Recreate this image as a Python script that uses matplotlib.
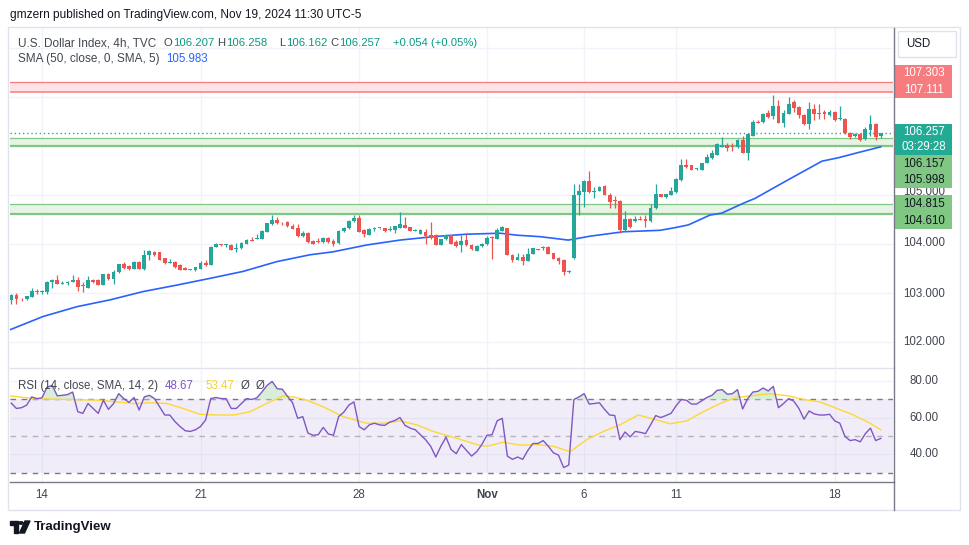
import numpy as np
import matplotlib.pyplot as plt
from matplotlib.patches import Rectangle, Circle, Polygon
from matplotlib.lines import Line2D

plt.rcParams['font.family'] = ['Liberation Sans', 'DejaVu Sans']

# ---- data (USD index, 4h candles, Oct 11 - Nov 19 2024) ----
opens = [
    102.86, 102.95, 102.90, 102.87, 102.92, 103.05, 103.03, 103.03, 103.22, 103.27,
    103.19, 103.20, 103.22, 103.27, 103.17, 103.11, 103.27, 103.27, 103.17, 103.39,
    103.29, 103.42, 103.59, 103.56, 103.49, 103.64, 103.49, 103.77, 103.84, 103.83,
    103.71, 103.62, 103.64, 103.58, 103.51, 103.47, 103.47, 103.49, 103.61, 103.58,
    103.93, 104.00, 103.98, 103.98, 103.90, 103.91, 104.00, 104.08, 104.11, 104.11,
    104.25, 104.40, 104.49, 104.45, 104.45, 104.37, 104.33, 104.17, 104.23, 104.07,
    104.06, 104.04, 104.12, 104.07, 104.02, 104.27, 104.32, 104.46, 104.54, 104.29,
    104.19, 104.30, 104.33, 104.33, 104.29, 104.29, 104.32, 104.39, 104.34, 104.27,
    104.21, 104.25, 104.19, 104.19, 103.98, 104.10, 104.18, 104.05, 103.97, 104.08,
    103.98, 103.86, 103.95, 104.00, 104.15, 104.11, 104.27, 104.32, 103.78, 103.67,
    103.74, 103.65, 103.80, 103.89, 103.91, 103.93, 103.82, 103.72, 103.67, 103.42,
    103.71, 104.99, 105.07, 105.29, 105.07, 105.09, 105.18, 105.00, 104.89, 104.88,
    104.29, 104.52, 104.46, 104.52, 104.51, 104.46, 104.73, 105.02, 104.95, 105.00,
    105.07, 105.31, 105.61, 105.61, 105.53, 105.50, 105.66, 105.75, 105.82, 105.98,
    106.03, 105.99, 105.97, 106.13, 105.86, 106.21, 106.49, 106.48, 106.68, 106.61,
    106.81, 106.46, 106.66, 106.90, 106.80, 106.63, 106.45, 106.76, 106.68, 106.69,
    106.63, 106.70, 106.55, 106.56, 106.26, 106.21, 106.25, 106.14, 106.33, 106.45,
    106.207,
]
highs = [
    102.98, 103.00, 102.90, 102.94, 103.11, 103.08, 103.07, 103.25, 103.29, 103.37,
    103.24, 103.25, 103.36, 103.32, 103.22, 103.34, 103.28, 103.28, 103.39, 103.41,
    103.47, 103.60, 103.63, 103.58, 103.65, 103.65, 103.88, 103.88, 103.85, 103.84,
    103.72, 103.70, 103.66, 103.59, 103.54, 103.49, 103.54, 103.66, 103.68, 103.95,
    104.02, 104.00, 103.99, 104.00, 104.02, 104.05, 104.10, 104.14, 104.21, 104.28,
    104.43, 104.60, 104.55, 104.45, 104.46, 104.40, 104.41, 104.26, 104.25, 104.08,
    104.12, 104.14, 104.15, 104.10, 104.29, 104.34, 104.48, 104.59, 104.60, 104.31,
    104.32, 104.35, 104.33, 104.33, 104.37, 104.37, 104.65, 104.55, 104.35, 104.30,
    104.30, 104.30, 104.45, 104.20, 104.11, 104.20, 104.18, 104.08, 104.18, 104.20,
    104.00, 103.97, 104.03, 104.16, 104.16, 104.32, 104.37, 104.33, 103.80, 103.81,
    103.80, 103.91, 103.92, 103.89, 103.96, 103.96, 103.82, 103.74, 103.69, 103.46,
    105.22, 105.22, 105.30, 105.48, 105.17, 105.19, 105.20, 105.05, 104.97, 104.89,
    104.68, 104.54, 104.57, 104.57, 104.59, 104.82, 105.22, 105.03, 105.03, 105.16,
    105.34, 105.73, 105.73, 105.61, 105.55, 105.66, 105.84, 105.92, 106.07, 106.18,
    106.06, 106.06, 106.14, 106.21, 106.24, 106.54, 106.53, 106.68, 106.74, 107.05,
    106.94, 106.74, 107.01, 106.93, 106.81, 106.65, 106.89, 106.85, 106.85, 106.74,
    106.74, 106.72, 106.81, 106.58, 106.29, 106.26, 106.26, 106.38, 106.63, 106.46,
    106.258,
]
lows = [
    102.78, 102.78, 102.83, 102.86, 102.91, 102.98, 102.97, 102.97, 103.10, 103.19,
    103.19, 103.17, 103.22, 103.05, 103.03, 103.11, 103.21, 103.16, 103.16, 103.27,
    103.19, 103.40, 103.50, 103.47, 103.48, 103.48, 103.46, 103.68, 103.76, 103.67,
    103.60, 103.62, 103.52, 103.47, 103.46, 103.46, 103.44, 103.49, 103.56, 103.57,
    103.93, 103.96, 103.93, 103.87, 103.83, 103.90, 103.99, 104.06, 104.11, 104.10,
    104.25, 104.39, 104.41, 104.39, 104.35, 104.30, 104.15, 104.14, 104.02, 103.99,
    104.03, 104.02, 104.02, 103.95, 104.01, 104.24, 104.31, 104.45, 104.24, 104.14,
    104.18, 104.27, 104.31, 104.25, 104.27, 104.22, 104.32, 104.32, 104.26, 104.26,
    104.20, 104.00, 104.10, 103.98, 103.97, 104.09, 104.00, 103.93, 103.84, 103.96,
    103.88, 103.85, 103.93, 103.98, 103.69, 104.10, 104.26, 103.77, 103.64, 103.67,
    103.57, 103.65, 103.79, 103.88, 103.88, 103.79, 103.69, 103.59, 103.37, 103.41,
    103.70, 104.60, 104.75, 105.05, 104.93, 105.08, 105.00, 104.73, 104.74, 104.23,
    104.27, 104.32, 104.44, 104.48, 104.35, 104.45, 104.72, 104.95, 104.94, 104.99,
    105.05, 105.29, 105.56, 105.51, 105.51, 105.50, 105.65, 105.74, 105.82, 105.97,
    105.90, 105.90, 105.95, 105.86, 105.72, 106.21, 106.46, 106.47, 106.58, 106.56,
    106.46, 106.38, 106.65, 106.70, 106.58, 106.43, 106.34, 106.53, 106.56, 106.56,
    106.61, 106.51, 106.54, 106.25, 106.14, 106.19, 106.11, 106.13, 106.21, 106.13,
    106.162,
]
closes = [
    102.95, 102.88, 102.89, 102.93, 103.05, 103.02, 103.04, 103.22, 103.27, 103.19,
    103.21, 103.22, 103.27, 103.13, 103.14, 103.27, 103.22, 103.17, 103.39, 103.29,
    103.42, 103.60, 103.51, 103.49, 103.64, 103.49, 103.78, 103.85, 103.77, 103.68,
    103.62, 103.63, 103.54, 103.47, 103.46, 103.49, 103.53, 103.61, 103.58, 103.94,
    104.00, 103.97, 103.99, 103.88, 103.91, 104.03, 104.08, 104.06, 104.12, 104.27,
    104.42, 104.50, 104.42, 104.44, 104.36, 104.31, 104.17, 104.23, 104.04, 104.00,
    104.04, 104.12, 104.04, 104.00, 104.27, 104.33, 104.47, 104.54, 104.25, 104.21,
    104.31, 104.33, 104.32, 104.27, 104.31, 104.36, 104.41, 104.32, 104.27, 104.29,
    104.29, 104.17, 104.13, 103.98, 104.10, 104.19, 104.01, 103.95, 104.07, 103.97,
    103.89, 103.96, 104.01, 104.12, 104.12, 104.29, 104.34, 103.78, 103.67, 103.74,
    103.65, 103.80, 103.91, 103.88, 103.93, 103.80, 103.70, 103.65, 103.42, 103.45,
    105.00, 105.08, 105.29, 105.07, 105.09, 105.16, 105.01, 104.86, 104.88, 104.29,
    104.52, 104.34, 104.52, 104.49, 104.46, 104.73, 105.02, 104.95, 105.02, 105.09,
    105.32, 105.61, 105.58, 105.52, 105.55, 105.66, 105.77, 105.86, 106.05, 106.03,
    105.96, 105.98, 106.13, 105.86, 106.24, 106.48, 106.47, 106.65, 106.60, 106.81,
    106.46, 106.68, 106.85, 106.78, 106.63, 106.44, 106.76, 106.66, 106.66, 106.66,
    106.70, 106.53, 106.56, 106.26, 106.19, 106.24, 106.13, 106.34, 106.44, 106.18,
    106.257,
]

# SMA(50) line, read at points (candle index, value)
sma_idx = [-0.25, 6.2, 12.8, 19.3, 25.8, 32.3, 38.9, 45.3, 51.9, 58.4, 62.9, 69.5,
           76.0, 82.5, 89.0, 95.6, 98.8, 103.4, 108.9, 113.2, 119.7, 126.9, 130.1,
           132.4, 136.6, 138.9, 143.1, 145.4, 151.9, 158.5, 161.7, 165.0, 170.0]
sma_val = [102.25, 102.52, 102.72, 102.86, 103.03, 103.16, 103.30, 103.44, 103.64,
           103.78, 103.84, 103.98, 104.08, 104.15, 104.20, 104.22, 104.18, 104.15,
           104.08, 104.16, 104.25, 104.28, 104.34, 104.39, 104.59, 104.63, 104.83,
           104.93, 105.31, 105.69, 105.76, 105.85, 105.983]

# RSI(14), one value per candle
rsi = [
    68.0, 65.1, 65.5, 66.9, 71.4, 70.5, 70.9, 76.8, 77.7, 72.0,
    72.3, 72.7, 74.1, 63.3, 62.4, 67.8, 65.1, 62.4, 69.6, 64.6,
    67.8, 73.2, 70.5, 68.4, 71.1, 64.2, 71.4, 72.3, 70.5, 66.0,
    61.5, 61.5, 57.9, 55.2, 52.9, 52.5, 53.4, 55.2, 58.8, 70.5,
    71.1, 70.5, 70.5, 65.1, 65.1, 67.8, 70.5, 70.0, 70.9, 74.1,
    77.7, 79.9, 75.9, 75.6, 71.8, 68.2, 59.7, 60.6, 51.6, 50.4,
    50.7, 54.7, 51.1, 50.4, 60.6, 63.0, 66.9, 68.7, 55.2, 53.4,
    56.1, 57.0, 56.1, 55.8, 57.6, 58.5, 60.1, 55.8, 54.3, 53.4,
    50.7, 48.0, 44.4, 38.5, 44.4, 49.3, 42.6, 40.3, 45.3, 42.1,
    39.0, 41.4, 45.3, 50.4, 50.7, 58.3, 59.7, 39.0, 37.2, 38.5,
    37.2, 42.1, 45.9, 45.9, 47.5, 44.4, 40.8, 39.5, 32.7, 34.1,
    70.0, 71.4, 73.2, 67.5, 67.8, 68.2, 64.6, 61.5, 61.2, 48.0,
    52.2, 49.5, 52.5, 52.0, 51.3, 56.1, 61.2, 60.1, 61.2, 62.4,
    66.6, 70.0, 69.6, 67.5, 67.5, 69.3, 71.1, 72.3, 75.0, 75.4,
    72.9, 73.2, 75.4, 64.8, 70.5, 74.1, 74.5, 76.3, 74.7, 77.2,
    65.5, 67.8, 70.5, 69.1, 65.1, 59.2, 63.7, 62.1, 61.5, 61.5,
    61.9, 58.3, 57.0, 49.8, 47.5, 48.0, 46.8, 51.3, 54.3, 47.5,
    48.67,
]
# RSI-based SMA(14), read at points
rsi_ma_idx = [-0.25, 4.3, 10.8, 17.3, 23.9, 27.1, 30.4, 33.6, 36.9, 40.2, 43.4, 46.7,
              49.9, 53.2, 55.2, 57.8, 61.0, 64.9, 69.5, 72.8, 76.0, 79.3, 82.5, 85.8,
              91.7, 93.0, 96.2, 99.5, 102.7, 106.0, 109.3, 112.5, 115.8, 119.0, 122.6,
              126.2, 128.8, 132.1, 135.3, 138.6, 141.8, 148.4, 152.3, 154.9, 158.1,
              161.4, 164.7, 167.9, 170.0]
rsi_ma_val = [72.0, 70.5, 70.0, 69.6, 67.8, 68.2, 67.8, 65.1, 61.9, 61.5, 61.5, 63.3,
              67.8, 72.0, 71.4, 69.6, 66.0, 60.6, 57.0, 57.0, 58.3, 56.1, 52.5, 49.8,
              44.8, 44.4, 46.6, 45.0, 45.3, 44.4, 41.4, 48.0, 52.5, 56.1, 61.5,
              58.8, 56.7, 58.3, 63.3, 67.8, 71.1, 73.2, 71.8, 70.0, 68.7,
              65.1, 61.5, 57.0, 53.47]

# date ticks (candle index where each day starts)
tick_idx = [6, 37, 68, 93, 112, 130, 161]
tick_lbl = ["14", "21", "28", "Nov", "6", "11", "18"]

# horizontal zones
red_zone = (107.111, 107.303)
green_zones = [(105.998, 106.157), (104.610, 104.815)]
last_price = 106.257

GREEN = "#26a69a"
RED = "#ef5350"
GRID = "#f0f3fa"
TXT = "#42464f"

W, H = 970, 545
fig = plt.figure(figsize=(W / 100, H / 100), dpi=100)
fig.patch.set_facecolor("white")


def fx(x):
    return x / W


def fy(y):
    return 1 - y / H


def ptext(x, y, s, **kw):
    kw.setdefault("va", "center")
    kw.setdefault("fontsize", 8.3)
    kw.setdefault("color", TXT)
    fig.text(fx(x), fy(y), s, **kw)


def box(x0, y0, x1, y1, fc, ec=None, lw=0, z=5):
    fig.add_artist(Rectangle((fx(x0), fy(y1)), (x1 - x0) / W, (y1 - y0) / H,
                             transform=fig.transFigure, facecolor=fc,
                             edgecolor=ec if ec else fc, linewidth=lw, zorder=z))


def pline(x0, y0, x1, y1, color, lw=1.0, z=6):
    fig.add_artist(Line2D([fx(x0), fx(x1)], [fy(y0), fy(y1)], transform=fig.transFigure,
                          color=color, lw=lw, zorder=z))


XL = (-0.25, 172.4)

# ---- price pane ----
ax = fig.add_axes([fx(10), fy(367), 883 / W, 339 / H])
ax.set_xlim(*XL)
ax.set_ylim(101.49, 108.408)
ax.set_axis_off()

for p in range(102, 109):
    ax.axhline(p, color=GRID, lw=1, zorder=0)
for t in tick_idx:
    ax.axvline(t, color=GRID, lw=1, zorder=0)

ax.axhspan(*red_zone, color="#fde3e5", lw=0, zorder=1)
ax.axhline(red_zone[0], color="#f77c80", lw=1.1, zorder=2)
ax.axhline(red_zone[1], color="#f77c80", lw=0.9, zorder=2)
for lo, hi in green_zones:
    ax.axhspan(lo, hi, color="#e6f3e5", lw=0, zorder=1)
    ax.axhline(lo, color="#81c784", lw=1.6, zorder=2)
    ax.axhline(hi, color="#81c784", lw=0.9, zorder=2)

ax.axhline(last_price, color=GREEN, lw=1, ls=(0, (1, 2)), zorder=2)

o = np.array(opens)
h = np.array(highs)
l = np.array(lows)
c = np.array(closes)
x = np.arange(len(o))
col = np.where(c >= o, GREEN, RED)
ax.vlines(x, l, h, colors=col, lw=0.9, zorder=4)
ax.bar(x, np.maximum(np.abs(c - o), 0.018), bottom=np.minimum(o, c), width=0.74,
       color=col, linewidth=0, zorder=5)

ax.plot(sma_idx, sma_val, color="#2962ff", lw=1.2, zorder=3)

# ---- RSI pane ----
rx = fig.add_axes([fx(10), fy(482), 883 / W, 112 / H])
rx.set_xlim(*XL)
rx.set_ylim(24.8, 86.16)
rx.set_axis_off()
for v in (40, 60, 80):
    rx.axhline(v, color=GRID, lw=1, zorder=0)
for t in tick_idx:
    rx.axvline(t, color=GRID, lw=1, zorder=0)
rx.axhspan(30, 70, color="#7e57c2", alpha=0.1, lw=0, zorder=1)
rx.axhline(70, color="#787b86", lw=1, ls=(0, (4, 4)), zorder=2)
rx.axhline(30, color="#787b86", lw=1, ls=(0, (4, 4)), zorder=2)
rx.axhline(50, color="#787b86", lw=1, ls=(0, (4, 4)), alpha=0.5, zorder=2)
r = np.array(rsi)
xr = np.arange(len(r))
rx.fill_between(xr, 70, r, where=r > 70, interpolate=True, color="#cfe9d1",
                alpha=0.8, lw=0, zorder=2)
rx.plot(rsi_ma_idx, rsi_ma_val, color="#fdd835", lw=1, zorder=3)
rx.plot(xr, r, color="#7e57c2", lw=1, zorder=4)

# ---- frame and separators ----
box(8, 27, 960, 510, "none", ec="#e0e3eb", lw=1, z=1)
pline(10, 368, 894, 368, "#e0e3eb", lw=1)
pline(10, 482, 894, 482, "#787b86", lw=1)
pline(894, 28, 894, 510, "#787b86", lw=1)

# ---- header texts ----
ptext(10, 15, "gmzern published on TradingView.com, Nov 19, 2024 11:30 UTC-5",
      color="#131722", fontsize=8.6)
ptext(18, 43, "U.S. Dollar Index, 4h, TVC", fontsize=8.5)
hdr = [(164, "O", TXT), (173, "106.207", "#089981"), (217, "H", TXT),
       (226, "106.258", "#089981"), (279, "L", TXT), (286, "106.162", "#089981"),
       (330, "C", TXT), (339, "106.257", "#089981"), (393, "+0.054 (+0.05%)", "#089981")]
for xx, s, cc in hdr:
    ptext(xx, 43, s, color=cc, fontsize=8.1)
ptext(18, 59, "SMA (50, close, 0, SMA, 5)", fontsize=8.5)
ptext(166, 59, "105.983", color="#2962ff", fontsize=8.3)

ptext(18, 386, "RSI (14, close, SMA, 14, 2)", fontsize=8.3)
ptext(165, 386, "48.67", color="#7e57c2")
ptext(205, 386, "53.47", color="#f5d136")
ptext(241, 386, "Ø")
ptext(256, 386, "Ø")

# ---- right price scale ----
box(898, 31, 956, 57, "white", ec="#e0e3eb", lw=1, z=5)
ptext(906, 44, "USD", color="#131722", fontsize=8.3, zorder=6)

for yy, s in [(243, "104.000"), (294, "103.000"), (342, "102.000"), (192, "105.000")]:
    ptext(924, yy, s, ha="center", zorder=3)

box(895, 65, 952, 98, "#f77c80")
ptext(924, 73, "107.303", ha="center", color="white", zorder=6)
ptext(924, 90, "107.111", ha="center", color="white", zorder=6)
box(895, 124, 952, 155, "#22ab94")
ptext(924, 132, "106.257", ha="center", color="white", zorder=6)
ptext(924, 147, "03:29:28", ha="center", color="white", zorder=6)
box(895, 155, 952, 188, "#81c784")
ptext(924, 164, "106.157", ha="center", color="#131722", zorder=6)
ptext(924, 180, "105.998", ha="center", color="#131722", zorder=6)
box(895, 195, 952, 229, "#81c784")
ptext(924, 204, "104.815", ha="center", color="#131722", zorder=6)
ptext(924, 221, "104.610", ha="center", color="#131722", zorder=6)

for yy, s in [(381, "80.00"), (418, "60.00"), (454, "40.00")]:
    ptext(924, yy, s, ha="center")

# ---- date axis ----
for t, s in zip(tick_idx, tick_lbl):
    xpx = 10 + (t - XL[0]) * 883 / (XL[1] - XL[0])
    ptext(xpx, 495, s, ha="center", fontweight="bold" if s == "Nov" else "normal")

# ---- footer logo ----
fig.add_artist(Polygon([(fx(10), fy(521)), (fx(18), fy(521)), (fx(18), fy(533)),
                        (fx(14), fy(533)), (fx(14), fy(525)), (fx(10), fy(525))],
                       closed=True, transform=fig.transFigure, color="#131722"))
fig.add_artist(Circle((fx(21), fy(523)), 2.2 / W, transform=fig.transFigure,
                      color="#131722"))
fig.add_artist(Polygon([(fx(25), fy(521)), (fx(30), fy(521)), (fx(24.5), fy(533)),
                        (fx(19.5), fy(533))], closed=True, transform=fig.transFigure,
                       color="#131722"))
ptext(34, 527, "TradingView", color="#131722", fontsize=9.5, fontweight="bold")

fig.savefig("out.png", dpi=100)
